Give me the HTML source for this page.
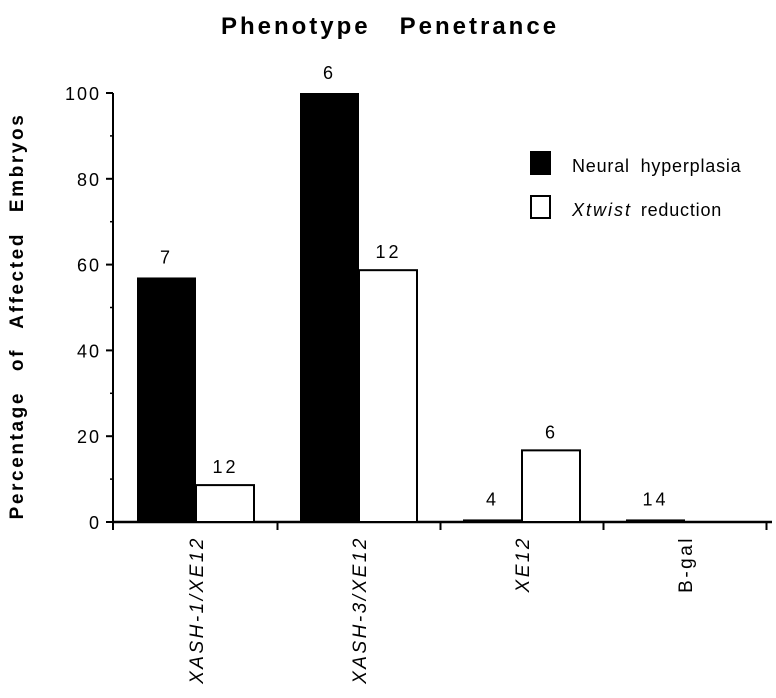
<!DOCTYPE html>
<html><head><meta charset="utf-8">
<style>
html,body{margin:0;padding:0;background:#fff;}
svg{display:block;font-family:"Liberation Sans",Arial,sans-serif;}
</style></head>
<body>
<svg id="chart" width="776" height="698" viewBox="0 0 776 698">
<text x="390" y="34" text-anchor="middle" font-size="24" font-weight="bold" letter-spacing="3">Phenotype&#160;&#160;&#160;Penetrance</text>
<text transform="translate(23,316) rotate(-90)" text-anchor="middle" font-size="19" font-weight="bold" letter-spacing="2.6" word-spacing="12">Percentage of Affected Embryos</text>
<g id="axes"></g>
<g id="bars"></g>
<g>
<rect x="530" y="151" width="21" height="24" fill="#000"/>
<text x="572" y="172" font-size="18" letter-spacing="0.8" word-spacing="5">Neural hyperplasia</text>
<rect x="531" y="196" width="19" height="22" fill="#fff" stroke="#000" stroke-width="2"/>
<text x="572" y="216" font-size="18" letter-spacing="0.8" word-spacing="3"><tspan font-style="italic" letter-spacing="2">Xtwist</tspan> reduction</text>
</g>
</svg>
<script>
const categories = ["XASH-1/XE12", "XASH-3/XE12", "XE12", "B-gal"];
const neuralValues = [57, 100, 0.6, 0.6];
const xtwistValues = [8.6, 58.7, 16.7, 0];
const neuralN = ["7", "6", "4", "14"];
const xtwistN = ["12", "12", "6", ""];
const yTicks = [0, 20, 40, 60, 80, 100];
const italicCats = [true, true, true, false];

const NS = "http://www.w3.org/2000/svg";
const y0 = 522, y100 = 93, xLeft = 113, xRight = 772;
const catW = 163;
function yScale(v){ return y0 - (y0 - y100) * v / 100; }
function catCenter(i){ return 196 + catW * i; }
function mk(tag, attrs, parent){ const e = document.createElementNS(NS, tag); for (const k in attrs) e.setAttribute(k, attrs[k]); parent.appendChild(e); return e; }

const axes = document.getElementById('axes');
const yAxis = mk('line', {x1:xLeft, y1:y100, x2:xLeft, y2:y0+1, stroke:'#000','stroke-width':2}, axes);


const xAxis = mk('line', {x1:xLeft, y1:y0, x2:xRight, y2:y0, stroke:'#000','stroke-width':2.5}, axes);


yTicks.forEach(function(t){
  const y = yScale(t);
  const tk = mk('line', {x1:xLeft-7, y1:y, x2:xLeft, y2:y, stroke:'#000','stroke-width':2}, axes);
  
  
  const lb = mk('text', {x:xLeft-12, y:y+7, 'text-anchor':'end','font-size':18,'letter-spacing':'2'}, axes);
  lb.textContent = t;
  
  
  if (t < 100) {
    const mt = mk('line', {x1:xLeft-3, y1:yScale(t+10), x2:xLeft, y2:yScale(t+10), stroke:'#000','stroke-width':1.5}, axes);
    
    
  }
});
for (let i = 0; i <= categories.length; i++) {
  const x = i === 0 ? xLeft : catCenter(i - 1) + catW / 2;
  const tk = mk('line', {x1:x, y1:y0, x2:x, y2:y0+8, stroke:'#000','stroke-width':2}, axes);
  
  
}
categories.forEach(function(c, i){
  const cx = catCenter(i);
  const lb = mk('text', {transform:'translate(' + (cx+7) + ',536) rotate(-90)', 'text-anchor':'end','font-size':19,'letter-spacing':'2.5'}, axes);
  if (italicCats[i]) lb.setAttribute('font-style', 'italic');
  lb.textContent = c;
  
  
});

const bars = document.getElementById('bars');
const bw = 59;
categories.forEach(function(c, i){
  const cx = catCenter(i);
  const nv = neuralValues[i], xv = xtwistValues[i];
  const ny = yScale(nv);
  const b1 = mk('rect', {x:cx-bw, y:ny, width:bw, height:Math.max(y0-ny,2), fill:'#000'}, bars);
  
  
  if (xv > 0) {
    const xy = yScale(xv);
    const b2 = mk('rect', {x:cx, y:xy, width:bw-1, height:y0-xy, fill:'#fff', stroke:'#000','stroke-width':2}, bars);
    
    
  }
  const t1 = mk('text', {x:cx-bw/2, y:ny-14, 'text-anchor':'middle','font-size':18,'letter-spacing':'3'}, bars);
  t1.textContent = neuralN[i];
  
  
  if (xtwistN[i]) {
    const t2 = mk('text', {x:cx+bw/2, y:yScale(xv)-12, 'text-anchor':'middle','font-size':18,'letter-spacing':'3'}, bars);
    t2.textContent = xtwistN[i];
    
    
  }
});
</script>
</body></html>
